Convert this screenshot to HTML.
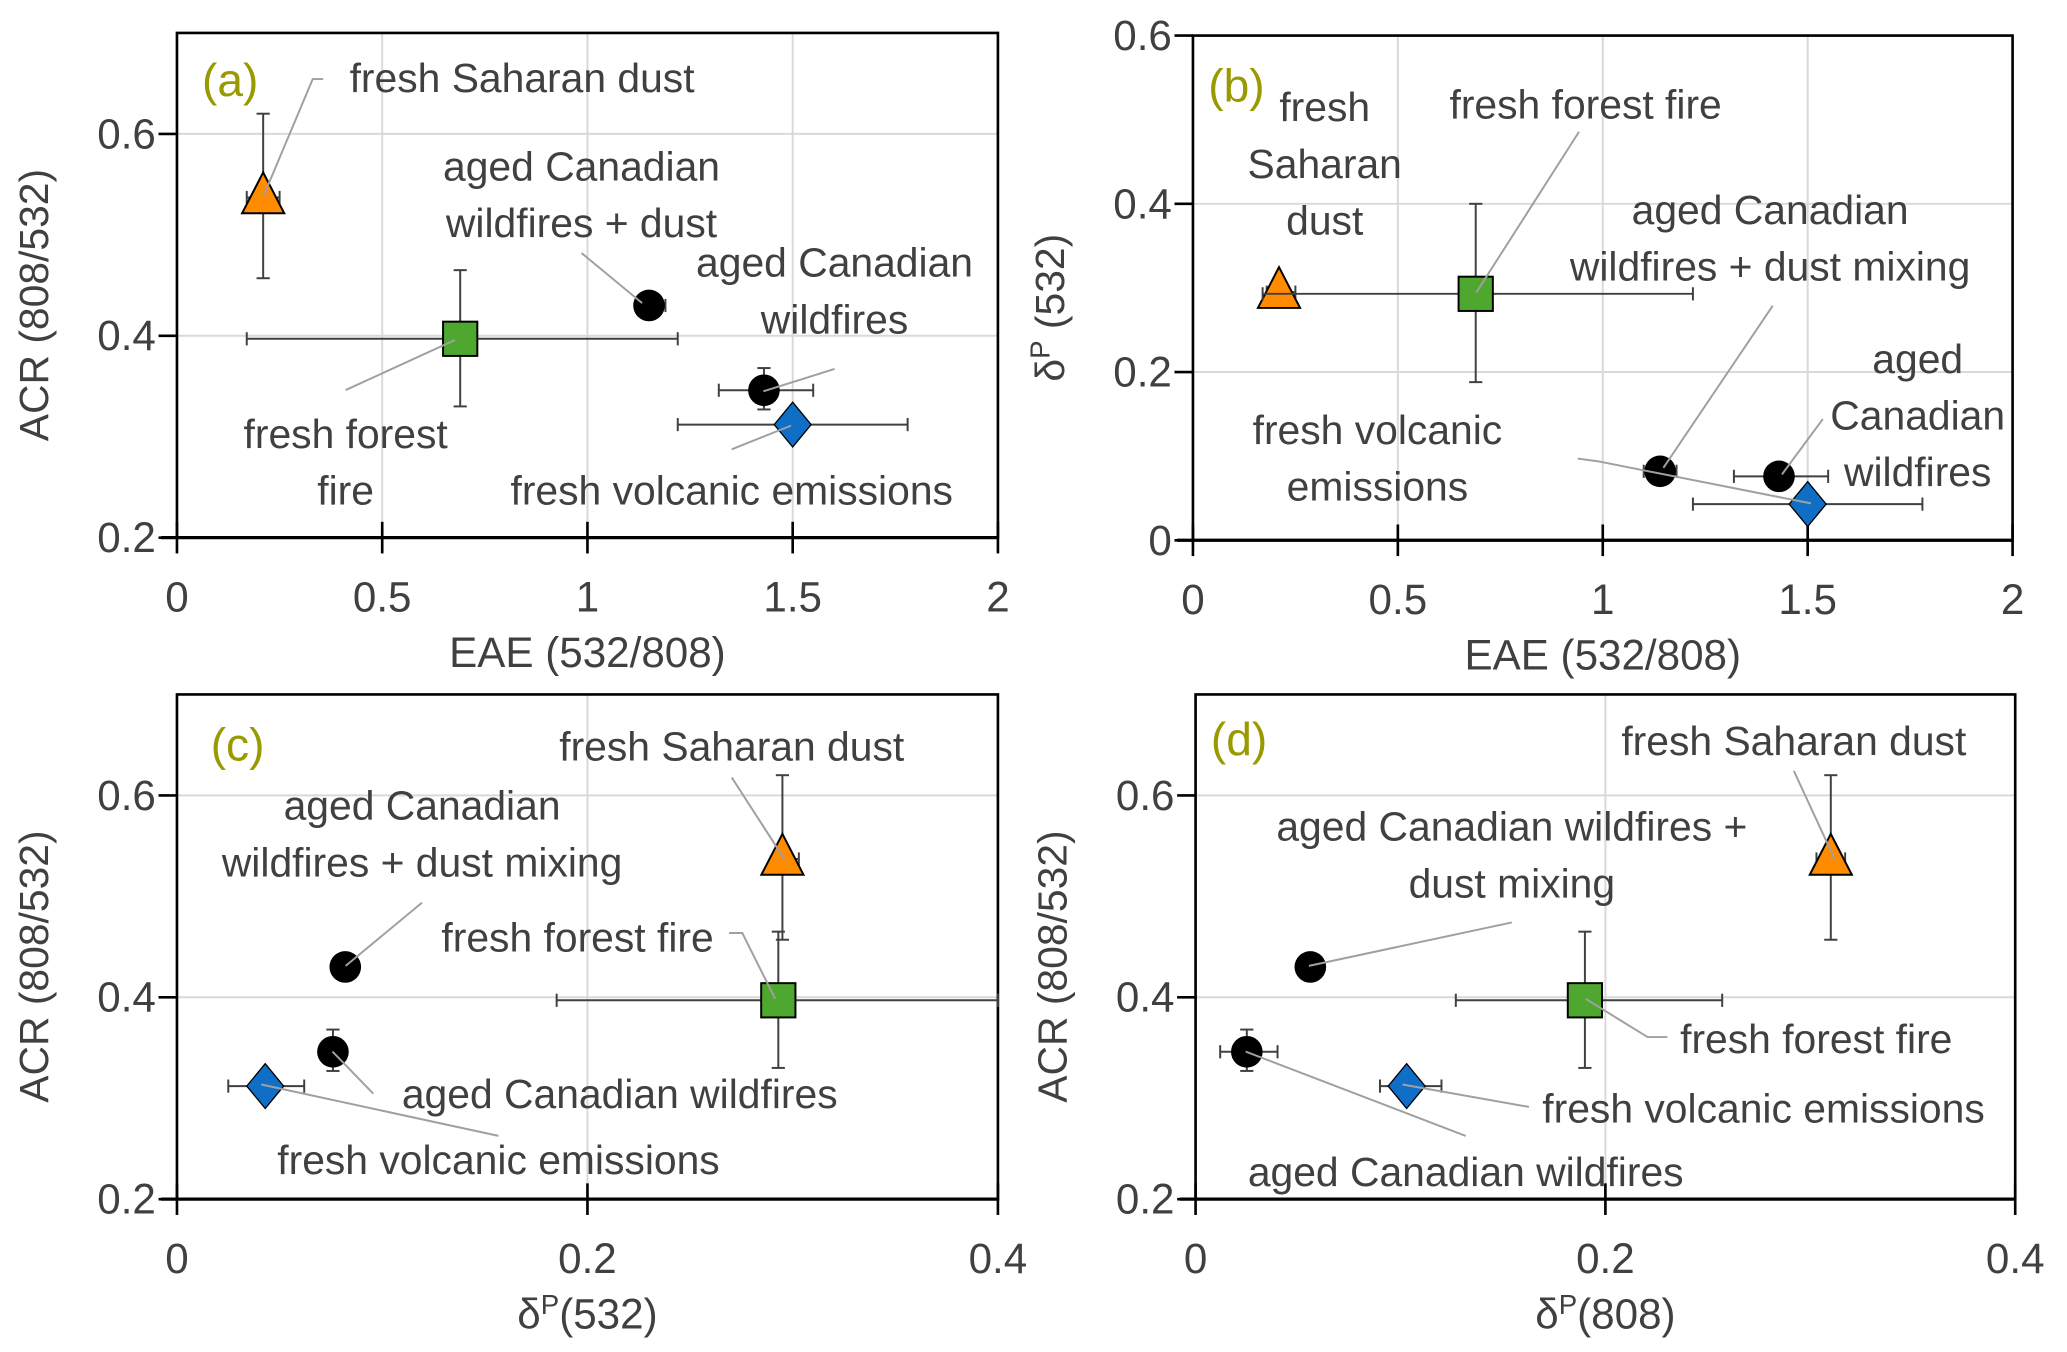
<!DOCTYPE html>
<html><head><meta charset="utf-8">
<style>
html,body{margin:0;padding:0;background:#fff;}
svg{display:block;}
.lbl{font-family:"Liberation Sans Narrow","Liberation Sans",sans-serif;font-size:31px;fill:#404040;}
.tick{font-family:"Liberation Sans",sans-serif;font-size:32px;fill:#404040;}
.ttl{font-family:"Liberation Sans Narrow","Liberation Sans",sans-serif;font-size:32px;fill:#404040;}
.ttlw{font-family:"Liberation Sans",sans-serif;font-size:31px;fill:#404040;}
.pl{font-family:"Liberation Sans Narrow","Liberation Sans",sans-serif;font-size:35px;fill:#999900;}
</style></head>
<body>
<svg id="chart" width="2067" height="1352" viewBox="0 0 1568 1026" xmlns="http://www.w3.org/2000/svg"></svg>
<script>
// series order: fresh Saharan dust, fresh forest fire, aged Canadian wildfires + dust mixing, aged Canadian wildfires, fresh volcanic emissions
const seriesNames = ['saharan-dust','forest-fire','aged-wildfires-dust','aged-wildfires','volcanic-emissions'];
const EAE = [0.21, 0.69, 1.15, 1.43, 1.50];
const EAElo = [0.17, 0.17, 1.12, 1.32, 1.22];
const EAEhi = [0.25, 1.22, 1.19, 1.55, 1.78];
const ACR = [0.537, 0.397, 0.430, 0.346, 0.312];
const ACRlo = [0.457, 0.330, 0.430, 0.327, 0.312];
const ACRhi = [0.620, 0.465, 0.430, 0.368, 0.312];
const D532 = [0.295, 0.293, 0.082, 0.076, 0.043];
const D532lo = [0.290, 0.188, 0.082, 0.076, 0.040];
const D532hi = [0.300, 0.400, 0.082, 0.076, 0.046];
const D532xlo = [0.293, 0.185, 0.082, 0.076, 0.025];
const D532xhi = [0.303, 0.400, 0.082, 0.076, 0.062];
const D808 = [0.310, 0.190, 0.056, 0.025, 0.103];
const D808lo = [0.303, 0.127, 0.056, 0.012, 0.090];
const D808hi = [0.317, 0.257, 0.056, 0.040, 0.120];
const EAEb_lo = [0.18, 0.17, 1.10, 1.32, 1.22];
const EAEb_hi = [0.25, 1.22, 1.18, 1.55, 1.78];
const EAEb = [0.21, 0.69, 1.14, 1.43, 1.50];
const ticksEAE = [0, 0.5, 1, 1.5, 2];
const ticksACR = [0.2, 0.4, 0.6];
const ticksDP = [0, 0.2, 0.4];
const ticksD532y = [0, 0.2, 0.4, 0.6];

const NS='http://www.w3.org/2000/svg';
const svg=document.getElementById('chart');
function el(tag,attrs,parent){const e=document.createElementNS(NS,tag);for(const k in attrs)e.setAttribute(k,attrs[k]);(parent||svg).appendChild(e);return e;}

const panels=[
 {id:'a',L:134,R:757,T:25,B:408,xmin:0,xmax:2,ymin:0.2,ymax:0.7,xt:ticksEAE,yt:ticksACR,yg:[0.4,0.6],xg:[0.5,1,1.5],
  x:EAE,xlo:EAElo,xhi:EAEhi,y:ACR,ylo:ACRlo,yhi:ACRhi,xtitle:'EAE (532/808)',ytitle:'ACR (808/532)',yfmt:v=>v.toFixed(1),xfmt:v=>String(v)},
 {id:'b',L:905,R:1527,T:27,B:410,xmin:0,xmax:2,ymin:0,ymax:0.6,xt:ticksEAE,yt:ticksD532y,yg:[0.2,0.4],xg:[0.5,1,1.5],
  x:EAEb,xlo:EAEb_lo,xhi:EAEb_hi,y:D532,ylo:D532lo,yhi:D532hi,xtitle:'EAE (532/808)',ytitle:'δP (532)',yfmt:v=>v===0?'0':v.toFixed(1),xfmt:v=>String(v)},
 {id:'c',L:134,R:757,T:527,B:910,xmin:0,xmax:0.4,ymin:0.2,ymax:0.7,xt:ticksDP,yt:ticksACR,yg:[0.4,0.6],xg:[0.2],
  x:D532,xlo:D532xlo,xhi:D532xhi,y:ACR,ylo:ACRlo,yhi:ACRhi,xtitle:'δP(532)',ytitle:'ACR (808/532)',yfmt:v=>v.toFixed(1),xfmt:v=>v===0?'0':v.toFixed(1)},
 {id:'d',L:907,R:1529,T:527,B:910,xmin:0,xmax:0.4,ymin:0.2,ymax:0.7,xt:ticksDP,yt:ticksACR,yg:[0.4,0.6],xg:[0.2],
  x:D808,xlo:D808lo,xhi:D808hi,y:ACR,ylo:ACRlo,yhi:ACRhi,xtitle:'δP(808)',ytitle:'ACR (808/532)',yfmt:v=>v.toFixed(1),xfmt:v=>v===0?'0':v.toFixed(1)}
];

function drawMarker(g,i,cx,cy){
  let m;
  if(i===0) m=el('polygon',{points:`${cx},${cy-19} ${cx-16},${cy+12} ${cx+16},${cy+12}`,fill:'#ff8c00',stroke:'#000','stroke-width':1.5},g);
  else if(i===1) m=el('rect',{x:cx-13,y:cy-13,width:26,height:26,fill:'#4ea72e',stroke:'#000','stroke-width':1.5},g);
  else if(i===4) m=el('polygon',{points:`${cx},${cy-17} ${cx+14},${cy} ${cx},${cy+17} ${cx-14},${cy}`,fill:'#0f6fc6',stroke:'#000','stroke-width':1},g);
  else m=el('ellipse',{cx:cx,cy:cy,rx:12,ry:12,fill:'#000'},g);
  
  
}

panels.forEach(p=>{
  const g=el('g',{});
  
  
  const sx=v=>p.L+(v-p.xmin)/(p.xmax-p.xmin)*(p.R-p.L);
  const sy=v=>p.B-(v-p.ymin)/(p.ymax-p.ymin)*(p.B-p.T);
  p.xg.forEach(v=>{const l=el('line',{x1:sx(v),x2:sx(v),y1:p.T,y2:p.B,stroke:'#d9d9d9','stroke-width':1.5},g);});
  p.yg.forEach(v=>{const l=el('line',{x1:p.L,x2:p.R,y1:sy(v),y2:sy(v),stroke:'#d9d9d9','stroke-width':1.5},g);});
  const box=el('rect',{x:p.L,y:p.T,width:p.R-p.L,height:p.B-p.T,fill:'none',stroke:'#000','stroke-width':2},g);
  
  el('line',{x1:p.L-12,x2:p.R,y1:p.B,y2:p.B,stroke:'#000','stroke-width':2.5},g);
  p.yt.forEach(v=>{
    el('line',{x1:p.L-14,x2:p.L,y1:sy(v),y2:sy(v),stroke:'#000','stroke-width':2},g);
    const t=el('text',{x:p.L-16,y:sy(v)+11,'text-anchor':'end',class:'tick'},g);t.textContent=p.yfmt(v);
    
  });
  p.xt.forEach(v=>{
    el('line',{x1:sx(v),x2:sx(v),y1:p.B-12,y2:p.B+12,stroke:'#000','stroke-width':2},g);
    const t=el('text',{x:sx(v),y:p.B+56,'text-anchor':'middle',class:'tick'},g);t.textContent=p.xfmt(v);
    
  });
  const xt=el('text',{x:(p.L+p.R)/2,y:p.B+98,'text-anchor':'middle',class:'ttl'},g);
  if(p.xtitle.startsWith('δP')){xt.innerHTML='δ<tspan dy="-11" font-size="21">P</tspan><tspan dy="11">'+p.xtitle.slice(2)+'</tspan>';}
  else xt.textContent=p.xtitle;
  
  const yc=(p.T+p.B)/2+15;
  const yt=el('text',{x:0,y:0,'text-anchor':'middle',class:'ttlw',transform:`translate(${p.L-98},${yc}) rotate(-90)`},g);
  if(p.ytitle.startsWith('δP')){yt.innerHTML='δ<tspan dy="-11" font-size="21">P</tspan><tspan dy="11">'+p.ytitle.slice(2)+'</tspan>';}
  else yt.textContent=p.ytitle;
  
  for(let i=0;i<p.x.length;i++){
    const eg=el('g',{stroke:'#404040','stroke-width':1.5},g);
    
    const cx=sx(p.x[i]),cy=sy(p.y[i]);
    if(p.xhi[i]>p.xlo[i]){
      el('line',{x1:sx(p.xlo[i]),x2:sx(p.xhi[i]),y1:cy,y2:cy},eg);
      el('line',{x1:sx(p.xlo[i]),x2:sx(p.xlo[i]),y1:cy-5,y2:cy+5},eg);
      el('line',{x1:sx(p.xhi[i]),x2:sx(p.xhi[i]),y1:cy-5,y2:cy+5},eg);
    }
    if(p.yhi[i]>p.ylo[i]){
      el('line',{x1:cx,x2:cx,y1:sy(p.ylo[i]),y2:sy(p.yhi[i])},eg);
      el('line',{x1:cx-5,x2:cx+5,y1:sy(p.ylo[i]),y2:sy(p.ylo[i])},eg);
      el('line',{x1:cx-5,x2:cx+5,y1:sy(p.yhi[i]),y2:sy(p.yhi[i])},eg);
    }
    drawMarker(g,i,cx,cy);
  }
});

const notes=[
 ['a',['(a)'],153,73,'start',null,true],
 ['a',['fresh Saharan dust'],265,70,'start','245,60 237,60 200,148'],
 ['a',['aged Canadian','wildfires + dust'],441,137,'middle','441,192 487,230'],
 ['a',['aged Canadian','wildfires'],633,210,'middle','633,280 579,297'],
 ['a',['fresh forest','fire'],262,340,'middle','262,296 345,258'],
 ['a',['fresh volcanic emissions'],555,383,'middle','555,341 600,323'],
 ['b',['(b)'],938,77,'middle',null,true],
 ['b',['fresh','Saharan','dust'],1005,92,'middle',null],
 ['b',['fresh forest fire'],1203,90,'middle','1198,100 1120,222'],
 ['b',['aged Canadian','wildfires + dust mixing'],1343,170,'middle','1345,232 1262,355'],
 ['b',['aged','Canadian','wildfires'],1455,283,'middle','1383,318 1352,360'],
 ['b',['fresh volcanic','emissions'],1045,337,'middle','1197,348 1212,350 1374,382'],
 ['c',['(c)'],180,577,'middle',null,true],
 ['c',['fresh Saharan dust'],555,577,'middle','555,590 595,652'],
 ['c',['aged Canadian','wildfires + dust mixing'],320,622,'middle','320,685 262,733'],
 ['c',['fresh forest fire'],438,722,'middle','553,708 563,708 588,758'],
 ['c',['aged Canadian wildfires'],470,841,'middle','283,830 252,798'],
 ['c',['fresh volcanic emissions'],378,891,'middle','378,862 198,823'],
 ['d',['(d)'],940,573,'middle',null,true],
 ['d',['fresh Saharan dust'],1361,573,'middle','1361,585 1392,652'],
 ['d',['aged Canadian wildfires +','dust mixing'],1147,638,'middle','1147,700 993,733'],
 ['d',['fresh forest fire'],1378,799,'middle','1265,787 1250,787 1203,758'],
 ['d',['fresh volcanic emissions'],1338,852,'middle','1160,840 1064,823'],
 ['d',['aged Canadian wildfires'],1112,900,'middle','1112,862 945,798']
];
notes.forEach(n=>{
  const [pid,lines,x,y,anchor,leader,isPanelLabel]=n;
  if(leader){
    const pl=el('polyline',{points:leader,fill:'none',stroke:'#a0a0a0','stroke-width':1.5});
    
  }
  lines.forEach((s,k)=>{
    const t=el('text',{x:x,y:y+k*43,'text-anchor':anchor,class:isPanelLabel?'pl':'lbl'});
    t.textContent=s;
    
    
  });
});
</script>
</body></html>
